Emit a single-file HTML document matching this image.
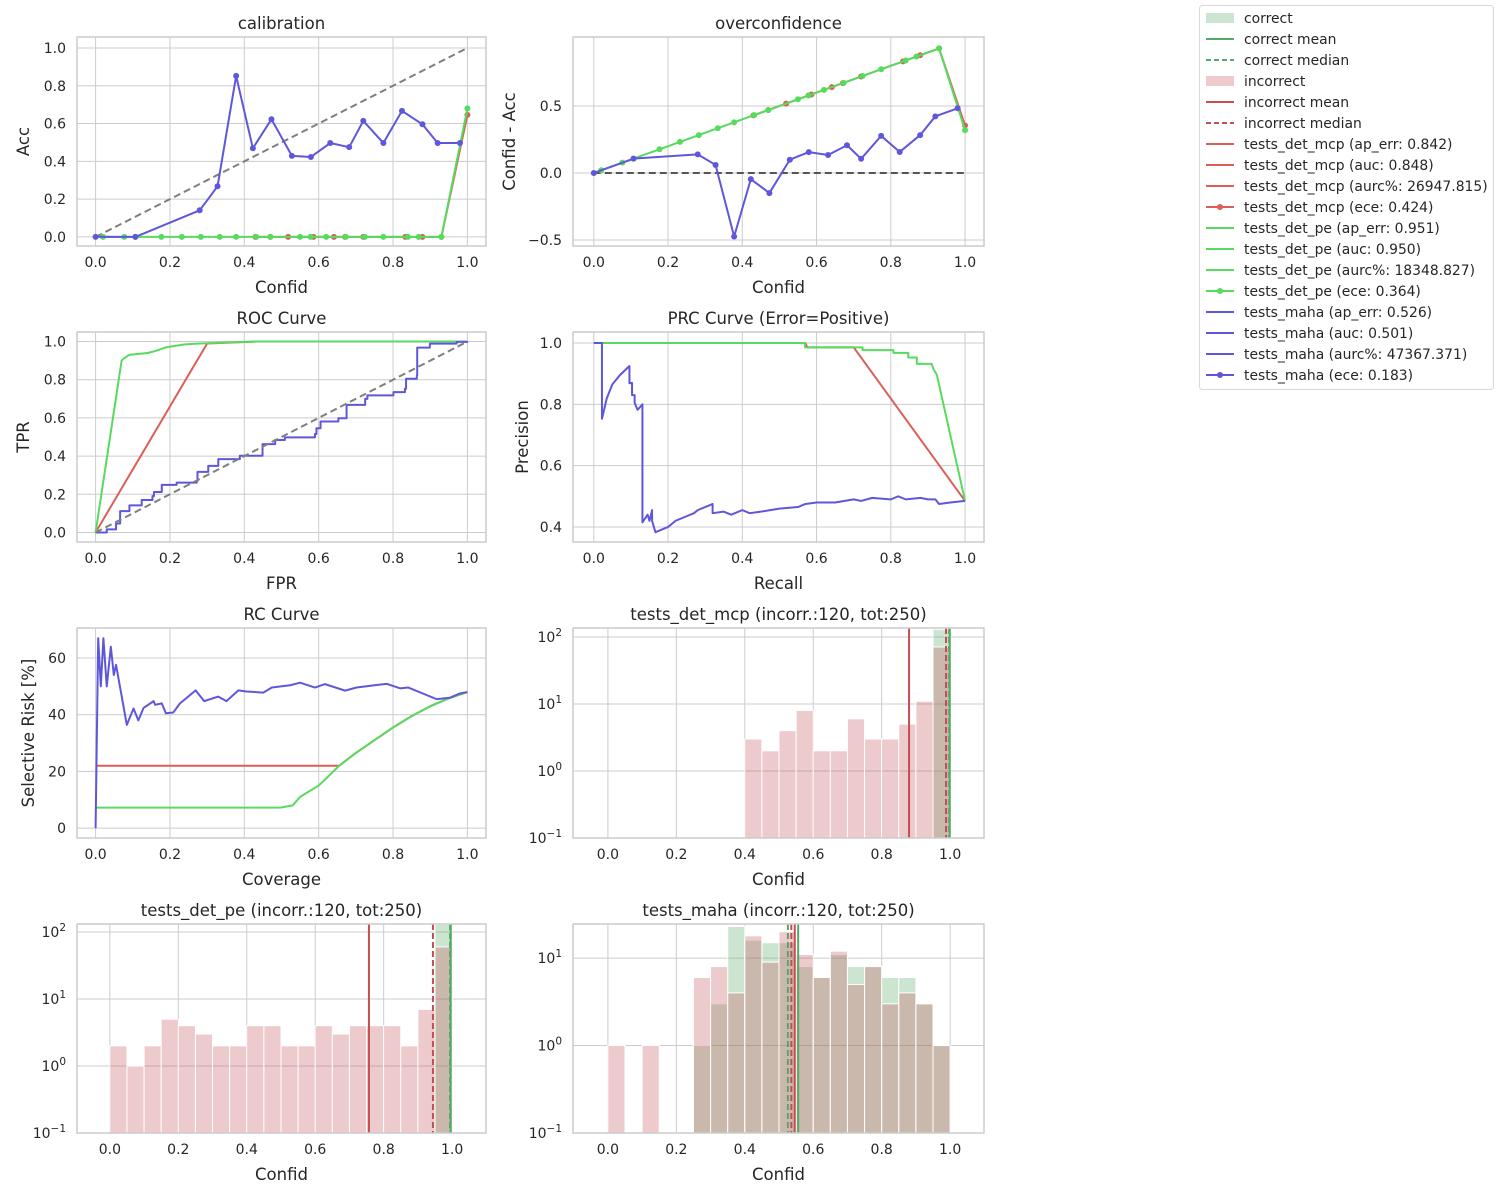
<!DOCTYPE html>
<html><head><meta charset="utf-8"><style>
html,body{margin:0;padding:0;background:#fff;}
svg{display:block;font-family:"DejaVu Sans","Liberation Sans",sans-serif;}
</style></head><body>
<svg id="chart" width="1500" height="1200" viewBox="0 0 1500 1200"></svg>
<script>
// ---------- DATA ----------
const calMcpConf=[0.43,0.47,0.518,0.586,0.641,0.671,0.72,0.833,0.879,0.93,1.0];
const calMcpAcc=[0,0,0,0,0,0,0,0,0,0,0.646];
const calPeConf=[0.02,0.077,0.107,0.177,0.232,0.283,0.334,0.378,0.432,0.47,0.55,0.578,0.62,0.673,0.724,0.774,0.84,0.869,0.93,1.0];
const calPeAcc=[0,0,0,0,0,0,0,0,0,0,0,0,0,0,0,0,0,0,0,0.68];
const calMahaConf=[0,0.107,0.28,0.328,0.378,0.423,0.473,0.528,0.579,0.631,0.682,0.72,0.774,0.824,0.879,0.92,0.98];
const calMahaAcc=[0,0,0.141,0.268,0.852,0.469,0.623,0.429,0.423,0.497,0.475,0.614,0.497,0.667,0.596,0.497,0.497];

const rocMcp=[[0,0],[0.3,0.99],[0.43,1.0],[1,1]];
const rocPe=[[0,0],[0.07,0.9],[0.075,0.91],[0.09,0.93],[0.14,0.94],[0.16,0.95],[0.19,0.97],[0.24,0.985],[0.28,0.99],[0.43,1.0],[1,1]];
const rocMaha=[[0,0],[0.03,0.016],[0.055,0.047],[0.066,0.112],[0.091,0.142],[0.124,0.17],[0.153,0.191],[0.157,0.212],[0.178,0.249],[0.218,0.261],[0.272,0.27],[0.274,0.317],[0.303,0.349],[0.33,0.384],[0.388,0.402],[0.449,0.463],[0.483,0.484],[0.509,0.498],[0.59,0.516],[0.594,0.546],[0.605,0.581],[0.653,0.598],[0.675,0.668],[0.725,0.7],[0.731,0.718],[0.801,0.735],[0.832,0.753],[0.835,0.805],[0.864,0.823],[0.865,0.968],[0.899,0.989],[0.971,0.998],[1,1]];

const prcMcp=[[0,1],[0.57,1],[0.575,0.986],[0.7,0.986],[1.0,0.485]];
const prcPe=[[0,1],[0.569,1],[0.569,0.986],[0.724,0.986],[0.724,0.977],[0.807,0.977],[0.807,0.968],[0.847,0.968],[0.847,0.953],[0.87,0.953],[0.87,0.932],[0.91,0.932],[0.915,0.915],[0.924,0.896],[1.0,0.485]];
const prcMaha=[[0,1],[0.022,1],[0.022,0.753],[0.035,0.82],[0.05,0.865],[0.07,0.895],[0.096,0.925],[0.096,0.869],[0.103,0.87],[0.103,0.83],[0.11,0.83],[0.11,0.805],[0.118,0.782],[0.131,0.80],[0.131,0.415],[0.145,0.44],[0.15,0.42],[0.157,0.455],[0.157,0.42],[0.166,0.383],[0.18,0.39],[0.2,0.40],[0.22,0.42],[0.25,0.435],[0.27,0.445],[0.28,0.455],[0.3,0.465],[0.31,0.47],[0.32,0.475],[0.32,0.445],[0.35,0.45],[0.37,0.44],[0.4,0.455],[0.42,0.445],[0.45,0.45],[0.5,0.46],[0.55,0.465],[0.57,0.475],[0.6,0.48],[0.65,0.48],[0.7,0.49],[0.72,0.485],[0.75,0.495],[0.8,0.49],[0.82,0.50],[0.84,0.49],[0.88,0.495],[0.9,0.49],[0.92,0.49],[0.93,0.475],[0.96,0.48],[1.0,0.485]];

const rcMcp=[[0,22],[0.655,22],[0.7,26.5],[0.75,31],[0.8,35.5],[0.85,39.5],[0.9,43],[0.95,45.8],[1.0,48]];
const rcPe=[[0,7.2],[0.496,7.2],[0.53,8],[0.55,11],[0.6,15],[0.62,17.5],[0.655,22],[0.7,26.5],[0.75,31],[0.8,35.5],[0.85,39.5],[0.9,43],[0.95,45.8],[1.0,48]];
const rcMaha=[[0,0],[0.007,67],[0.014,50],[0.021,67],[0.03,50],[0.041,64],[0.049,54],[0.055,57.6],[0.084,36.4],[0.102,42.2],[0.115,38],[0.129,42.4],[0.156,44.8],[0.16,43.5],[0.178,44],[0.189,40.5],[0.209,40.8],[0.227,44],[0.249,46.4],[0.269,48.6],[0.292,44.8],[0.33,46.4],[0.352,44.8],[0.384,48.6],[0.406,48.2],[0.451,47.8],[0.474,49.6],[0.523,50.4],[0.55,51.3],[0.59,49.6],[0.617,50.8],[0.671,48.5],[0.702,49.6],[0.756,50.5],[0.783,50.9],[0.819,49.3],[0.841,49.6],[0.917,45.5],[0.953,46],[0.98,47.5],[1.0,48]];

const binEdges=[0,0.05,0.1,0.15,0.2,0.25,0.3,0.35,0.4,0.45,0.5,0.55,0.6,0.65,0.7,0.75,0.8,0.85,0.9,0.95,1.0];
const mcpCorrect=[0,0,0,0,0,0,0,0,0,0,0,0,0,0,0,0,0,0,0,130];
const mcpIncorrect=[0,0,0,0,0,0,0,0,3,2,4,8,2,2,6,3,3,5,11,71];
const mcpStats=[0.999,0.997,0.88,0.988]; // correct mean, correct median, incorrect mean, incorrect median
const peCorrect=[0,0,0,0,0,0,0,0,0,0,0,0,0,0,0,0,0,0,0,130];
const peIncorrect=[2,1,2,5,4,3,2,2,4,4,2,2,4,3,4,4,4,2,7,60];
const peStats=[0.996,0.994,0.757,0.944];
const mahaCorrect=[0,0,0,0,0,1,3,23,16,15,15,8,6,11,8,8,6,6,3,1];
const mahaIncorrect=[1,0,1,0,0,6,8,4,18,9,20,11,6,12,5,8,3,4,3,1];
const mahaStats=[0.556,0.526,0.546,0.536];

const tick01=[0,0.2,0.4,0.6,0.8,1.0];
const legendLabels=["correct","correct mean","correct median","incorrect","incorrect mean","incorrect median",
"tests_det_mcp (ap_err: 0.842)","tests_det_mcp (auc: 0.848)","tests_det_mcp (aurc%: 26947.815)","tests_det_mcp (ece: 0.424)",
"tests_det_pe (ap_err: 0.951)","tests_det_pe (auc: 0.950)","tests_det_pe (aurc%: 18348.827)","tests_det_pe (ece: 0.364)",
"tests_maha (ap_err: 0.526)","tests_maha (auc: 0.501)","tests_maha (aurc%: 47367.371)","tests_maha (ece: 0.183)"];

// ---------- DRAWING ----------
const RED='#db5f57',GREEN='#57db5f',BLUE='#5f57db',CGREEN='#55a868',CRED='#c44e52',TXT='#262626',GRID='#cccccc';
const FT=16.5, FK=14;
const NS='http://www.w3.org/2000/svg';
const svg=document.getElementById('chart');
function mk(tag,attrs,parent){const e=document.createElementNS(NS,tag);for(const k in attrs)e.setAttribute(k,attrs[k]);(parent||svg).appendChild(e);return e;}
let clipId=0;
function fmt(t,d){return (t<0?'\u2212':'')+Math.abs(t).toFixed(d);}
function panel(id,box,xd,yd,o){
  const [x0,y0,x1,y1]=box;
  const g=mk('g',{});
  
  
  const sx=v=>x0+(v-xd[0])/(xd[1]-xd[0])*(x1-x0);
  const sy=o.log?(v=>y1-(Math.log10(v)-yd[0])/(yd[1]-yd[0])*(y1-y0)):(v=>y1-(v-yd[0])/(yd[1]-yd[0])*(y1-y0));
  const grid=mk('g',{stroke:GRID,'stroke-width':1},g);
  
  
  o.xticks.forEach(t=>{
    mk('line',{x1:sx(t),x2:sx(t),y1:y0,y2:y1},grid);
    const tx=mk('text',{x:sx(t),y:y1+21,'text-anchor':'middle','font-size':FK,fill:TXT},g);
    
    
    tx.textContent=fmt(t,1);
  });
  o.yticks.forEach(t=>{
    const yy=sy(t);
    mk('line',{x1:x0,x2:x1,y1:yy,y2:yy},grid);
    const tx=mk('text',{x:x0-11,y:yy+5,'text-anchor':'end','font-size':FK,fill:TXT},g);
    
    
    if(o.log){
      tx.textContent='10';
      const e=Math.round(Math.log10(t));
      const sp=mk('tspan',{dy:-6,'font-size':10.5},tx);
      sp.textContent=(e<0?'\u2212':'')+Math.abs(e);
    } else tx.textContent=o.yfmt?o.yfmt(t):fmt(t,1);
  });
  const title=mk('text',{x:(x0+x1)/2,y:y0-8,'text-anchor':'middle','font-size':FT,fill:TXT},g);
  
  
  title.textContent=o.title;
  const xl=mk('text',{x:(x0+x1)/2,y:y1+47,'text-anchor':'middle','font-size':FT,fill:TXT},g);
  
  
  xl.textContent=o.xlabel;
  if(o.ylabel){
    const yx=o.ylx, yc=(y0+y1)/2;
    const yl=mk('text',{x:yx,y:yc,'text-anchor':'middle','font-size':FT,fill:TXT,transform:`rotate(-90 ${yx} ${yc})`},g);
    
    
    yl.textContent=o.ylabel;
  }
  const cid='clip'+(clipId++);
  const cp=mk('clipPath',{id:cid},g);
  mk('rect',{x:x0,y:y0,width:x1-x0,height:y1-y0},cp);
  const plot=mk('g',{'clip-path':`url(#${cid})`},g);
  
  
  return {g,plot,sx,sy,box};
}
function frame(p,id){
  const [x0,y0,x1,y1]=p.box;
  const r=mk('rect',{x:x0,y:y0,width:x1-x0,height:y1-y0,fill:'none',stroke:GRID,'stroke-width':1.5},p.g);
  
  
}
function line(p,pts,color,name,opt){
  opt=opt||{};
  let d='';
  pts.forEach((q,i)=>{
    const X=p.sx(q[0]),Y=p.sy(q[1]);
    if(i===0) d+=`M${X},${Y}`;
    else if(opt.step) d+=`H${X}V${Y}`;
    else d+=`L${X},${Y}`;
  });
  const e=mk('path',{d,fill:'none',stroke:color,'stroke-width':opt.w||2,'stroke-dasharray':opt.dash||'none','stroke-linejoin':'round'},p.plot);
  
  
  if(opt.markers){
    pts.forEach(q=>{
      const c=mk('circle',{cx:p.sx(q[0]),cy:p.sy(q[1]),r:3,fill:color},p.plot);
      
      
    });
  }
}
function zip(a,b){return a.map((v,i)=>[v,b[i]]);}
function hist(p,counts,color,name){
  counts.forEach((c,i)=>{
    if(c<=0)return;
    const xa=p.sx(binEdges[i]),xb=p.sx(binEdges[i+1]),yt=p.sy(c);
    const r=mk('rect',{x:xa,y:yt,width:xb-xa,height:p.box[3]-yt+5,fill:color,'fill-opacity':0.3,stroke:'#fff','stroke-width':1},p.plot);
    
    
  });
}
function vline(p,v,color,dash,name){
  const X=p.sx(v);
  const e=mk('line',{x1:X,x2:X,y1:p.box[1],y2:p.box[3],stroke:color,'stroke-width':2,'stroke-dasharray':dash?'6,3':'none'},p.plot);
  
  
}

// 1 calibration
let p=panel('calibration',[77,37,486,246],[-0.05,1.05],[-0.048,1.058],{title:'calibration',xlabel:'Confid',ylabel:'Acc',ylx:29,xticks:tick01,yticks:tick01});
line(p,[[0,0],[1,1]],'#7f7f7f','calibration-diagonal',{dash:'7,4'});
line(p,zip(calMcpConf,calMcpAcc),RED,'calibration-mcp-line',{markers:true});
line(p,zip(calPeConf,calPeAcc),GREEN,'calibration-pe-line',{markers:true});
line(p,zip(calMahaConf,calMahaAcc),BLUE,'calibration-maha-line',{markers:true});
frame(p,'calibration');

// 2 overconfidence
p=panel('overconfidence',[573,37,984,246],[-0.056,1.051],[-0.545,1.015],{title:'overconfidence',xlabel:'Confid',ylabel:'Confid - Acc',ylx:515,xticks:tick01,yticks:[-0.5,0,0.5]});
line(p,[[0,0],[1,0]],'#555','overconfidence-zero-line',{dash:'7,4'});
line(p,calMcpConf.map((c,i)=>[c,c-calMcpAcc[i]]),RED,'overconfidence-mcp-line',{markers:true});
line(p,calPeConf.map((c,i)=>[c,c-calPeAcc[i]]),GREEN,'overconfidence-pe-line',{markers:true});
line(p,calMahaConf.map((c,i)=>[c,c-calMahaAcc[i]]),BLUE,'overconfidence-maha-line',{markers:true});
frame(p,'overconfidence');

// 3 ROC
p=panel('roc',[77,332,486,542],[-0.05,1.05],[-0.05,1.05],{title:'ROC Curve',xlabel:'FPR',ylabel:'TPR',ylx:29,xticks:tick01,yticks:tick01});
line(p,rocMcp,RED,'roc-mcp-line');
line(p,rocPe,GREEN,'roc-pe-line');
line(p,rocMaha,BLUE,'roc-maha-line',{step:true});
line(p,[[0,0],[1,1]],'#7f7f7f','roc-diagonal',{dash:'7,4'});
frame(p,'roc');

// 4 PRC
p=panel('prc',[573,332,984,542],[-0.056,1.051],[0.351,1.036],{title:'PRC Curve (Error=Positive)',xlabel:'Recall',ylabel:'Precision',ylx:528,xticks:tick01,yticks:[0.4,0.6,0.8,1.0]});
line(p,prcMcp,RED,'prc-mcp-line');
line(p,prcPe,GREEN,'prc-pe-line');
line(p,prcMaha,BLUE,'prc-maha-line');
frame(p,'prc');

// 5 RC
p=panel('rc',[77,628,486,838],[-0.05,1.05],[-3.5,70.6],{title:'RC Curve',xlabel:'Coverage',ylabel:'Selective Risk [%]',ylx:34,xticks:tick01,yticks:[0,20,40,60],yfmt:t=>String(t)});
line(p,rcMcp,RED,'rc-mcp-line');
line(p,rcPe,GREEN,'rc-pe-line');
line(p,rcMaha,BLUE,'rc-maha-line');
frame(p,'rc');

// 6-8 histograms
function histPanel(id,box,yd,title,corr,inc,st,xd){
  const hp=panel(id,box,xd,yd,{title,xlabel:'Confid',xticks:tick01,yticks:[0.1,1,10,100].filter(v=>Math.log10(v)<=yd[1]+0.001),log:true});
  hist(hp,corr,CGREEN,id+'-correct');
  hist(hp,inc,CRED,id+'-incorrect');
  vline(hp,st[0],CGREEN,false,id+'-correct-mean');
  vline(hp,st[1],CGREEN,true,id+'-correct-median');
  vline(hp,st[2],CRED,false,id+'-incorrect-mean');
  vline(hp,st[3],CRED,true,id+'-incorrect-median');
  frame(hp,id);
}
histPanel('hist-mcp',[573,628,984,838],[-1,2.134],'tests_det_mcp (incorr.:120, tot:250)',mcpCorrect,mcpIncorrect,mcpStats,[-0.102,1.099]);
histPanel('hist-pe',[77,924,486,1133],[-1,2.12],'tests_det_pe (incorr.:120, tot:250)',peCorrect,peIncorrect,peStats,[-0.096,1.099]);
histPanel('hist-maha',[573,924,984,1133],[-1,1.39],'tests_maha (incorr.:120, tot:250)',mahaCorrect,mahaIncorrect,mahaStats,[-0.102,1.099]);

// legend
const lg=mk('g',{});


mk('rect',{x:1199.5,y:5.5,width:294,height:384,rx:3,fill:'#fff',stroke:'#d9d9d9','stroke-width':1},lg);
legendLabels.forEach((lab,i)=>{
  const y=18+i*21;
  const ent=mk('g',{},lg);
  
  
  if(i===0||i===3){
    mk('rect',{x:1206,y:y-5,width:28,height:10,fill:i===0?CGREEN:CRED,'fill-opacity':0.3},ent);
  } else {
    let col,dash='none';
    if(i<3){col=CGREEN;dash=i===2?'5,3':'none';}
    else if(i<6){col=CRED;dash=i===5?'5,3':'none';}
    else if(i<10)col=RED; else if(i<14)col=GREEN; else col=BLUE;
    mk('line',{x1:1206,x2:1234,y1:y,y2:y,stroke:col,'stroke-width':2,'stroke-dasharray':dash},ent);
    if(i===9||i===13||i===17) mk('circle',{cx:1220,cy:y,r:3,fill:col},ent);
  }
  const t=mk('text',{x:1244,y:y+5,'font-size':13.9,fill:TXT},ent);
  t.textContent=lab;
});
</script>
</body></html>
